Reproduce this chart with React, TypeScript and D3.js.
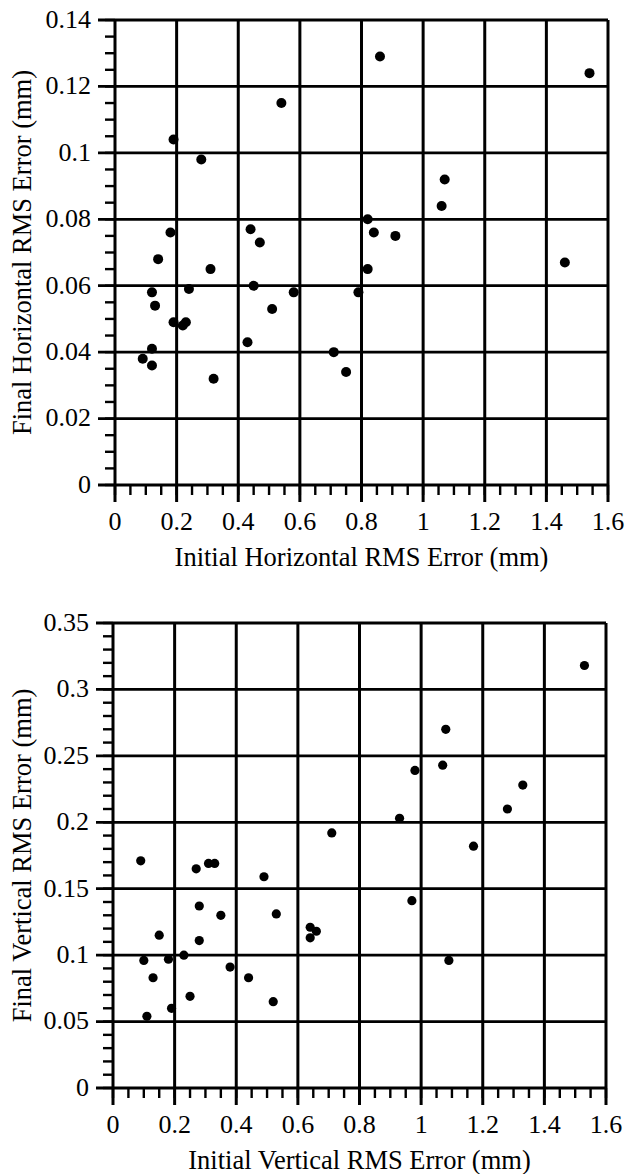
import React, { useEffect, useRef } from 'react';
import * as d3 from 'd3';

// horizontal RMS error, initial vs final (mm)
const horizInitial = [0.54, 0.19, 0.28, 0.18, 0.14, 0.31, 0.44, 0.47, 0.45, 0.24, 0.12, 0.58,
  0.86, 1.54, 1.07, 1.06, 0.82, 0.84, 0.91, 1.46, 0.82, 0.79, 0.13, 0.19, 0.22, 0.23,
  0.51, 0.43, 0.12, 0.09, 0.12, 0.32, 0.71, 0.75];
const horizFinal = [0.115, 0.104, 0.098, 0.076, 0.068, 0.065, 0.077, 0.073, 0.060, 0.059, 0.058, 0.058,
  0.129, 0.124, 0.092, 0.084, 0.080, 0.076, 0.075, 0.067, 0.065, 0.058, 0.054, 0.049, 0.048, 0.049,
  0.053, 0.043, 0.041, 0.038, 0.036, 0.032, 0.040, 0.034];

// vertical RMS error, initial vs final (mm)
const vertInitial = [0.09, 0.27, 0.31, 0.33, 0.49, 1.53, 1.08, 1.07, 0.98, 1.33, 1.28, 0.93,
  0.71, 1.17, 0.28, 0.35, 0.53, 0.15, 0.28, 0.64, 0.64, 0.66, 0.10, 0.18, 0.23, 0.38,
  0.13, 0.44, 0.25, 0.52, 0.19, 0.11, 0.97, 1.09];
const vertFinal = [0.171, 0.165, 0.169, 0.169, 0.159, 0.318, 0.270, 0.243, 0.239, 0.228, 0.210, 0.203,
  0.192, 0.182, 0.137, 0.130, 0.131, 0.115, 0.111, 0.121, 0.113, 0.118, 0.096, 0.097, 0.100, 0.091,
  0.083, 0.083, 0.069, 0.065, 0.060, 0.054, 0.141, 0.096];

const xTicks = [0, 0.2, 0.4, 0.6, 0.8, 1, 1.2, 1.4, 1.6];
const horizYTicks = [0, 0.02, 0.04, 0.06, 0.08, 0.1, 0.12, 0.14];
const vertYTicks = [0, 0.05, 0.1, 0.15, 0.2, 0.25, 0.3, 0.35];

const FONT = '"Liberation Serif", "Times New Roman", serif';

function drawPanel(svg, opt) {
  const { left, right, top, bottom, xs, ys, yTicks, yMinor, xTitle, yTitle, r } = opt;
  const x = d3.scaleLinear().domain([0, 1.6]).range([left, right]);
  const y = d3.scaleLinear().domain([0, yTicks[yTicks.length - 1]]).range([bottom, top]);
  const g = svg.append('g');

  // minor ticks
  const xMinor = d3.range(0, 1.6001, 0.05);
  g.append('g').selectAll('line').data(xMinor).enter().append('line')
    .attr('x1', d => x(d)).attr('x2', d => x(d))
    .attr('y1', bottom).attr('y2', bottom + 10)
    .attr('stroke', '#000').attr('stroke-width', 2.4);
  const yMin = d3.range(0, yTicks[yTicks.length - 1] + 1e-6, yMinor);
  g.append('g').selectAll('line').data(yMin).enter().append('line')
    .attr('x1', left - 10).attr('x2', left)
    .attr('y1', d => y(d)).attr('y2', d => y(d))
    .attr('stroke', '#000').attr('stroke-width', 2.4);

  // grid + major ticks
  g.append('g').selectAll('line').data(xTicks).enter().append('line')
    .attr('x1', d => x(d)).attr('x2', d => x(d))
    .attr('y1', top).attr('y2', bottom + 17)
    .attr('stroke', '#000').attr('stroke-width', 3);
  g.append('g').selectAll('line').data(yTicks).enter().append('line')
    .attr('x1', left - 17).attr('x2', right)
    .attr('y1', d => y(d)).attr('y2', d => y(d))
    .attr('stroke', '#000').attr('stroke-width', 2.8);

  // tick labels
  g.append('g').selectAll('text').data(xTicks).enter().append('text')
    .attr('x', d => x(d)).attr('y', bottom + 45)
    .attr('text-anchor', 'middle')
    .style('font-family', FONT).style('font-size', '26px')
    .text(d => String(d));
  g.append('g').selectAll('text').data(yTicks).enter().append('text')
    .attr('x', left - 24).attr('y', d => y(d)).attr('dy', '0.3em')
    .attr('text-anchor', 'end')
    .style('font-family', FONT).style('font-size', '26px')
    .text(d => String(d));

  // axis titles
  g.append('text')
    .attr('x', (left + right) / 2).attr('y', bottom + 81)
    .attr('text-anchor', 'middle')
    .style('font-family', FONT).style('font-size', '26.5px')
    .text(xTitle);
  g.append('text')
    .attr('transform', `translate(31, ${(top + bottom) / 2}) rotate(-90)`)
    .attr('text-anchor', 'middle')
    .style('font-family', FONT).style('font-size', '26.5px')
    .text(yTitle);

  // points
  g.append('g').selectAll('circle').data(xs).enter().append('circle')
    .attr('cx', d => x(d)).attr('cy', (d, i) => y(ys[i]))
    .attr('r', r).attr('fill', '#000');
}

function App() {
  const ref = useRef(null);
  useEffect(() => {
    const svg = d3.select(ref.current);
    svg.selectAll('*').remove();
    drawPanel(svg, {
      left: 115, right: 608, top: 20, bottom: 485,
      xs: horizInitial, ys: horizFinal, yTicks: horizYTicks, yMinor: 0.005, r: 5,
      xTitle: 'Initial Horizontal RMS Error (mm)', yTitle: 'Final Horizontal RMS Error (mm)',
    });
    drawPanel(svg, {
      left: 113, right: 606, top: 623, bottom: 1088,
      xs: vertInitial, ys: vertFinal, yTicks: vertYTicks, yMinor: 0.01, r: 4.6,
      xTitle: 'Initial Vertical RMS Error (mm)', yTitle: 'Final Vertical RMS Error (mm)',
    });
  }, []);
  return (
    <svg ref={ref} width={635} height={1174}
      style={{ position: 'absolute', left: 0, top: 0, background: '#fff' }} />
  );
}

export default App;
